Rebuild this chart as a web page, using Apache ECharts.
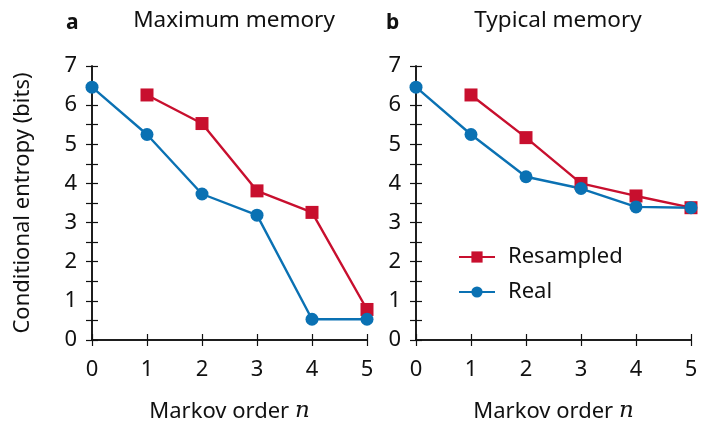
<!DOCTYPE html>
<html>
<head>
<meta charset="utf-8">
<script src="https://cdn.jsdelivr.net/npm/echarts@6/dist/echarts.min.js"></script>
<style>
  html, body { margin: 0; padding: 0; background: #fff; }
  #chart { width: 714px; height: 421px; }
</style>
</head>
<body>
<div id="chart"></div>
<script>
// Markov orders on the x axis
const orders = [0, 1, 2, 3, 4, 5];

// Panel a: maximum memory
const maxReal = [6.46, 5.25, 3.73, 3.19, 0.53, 0.53];
const maxResampled = [null, 6.26, 5.53, 3.81, 3.26, 0.78];

// Panel b: typical memory
const typReal = [6.46, 5.25, 4.17, 3.87, 3.40, 3.38];
const typResampled = [null, 6.26, 5.17, 4.00, 3.68, 3.38];

const panelTitles = ['Maximum memory', 'Typical memory'];
const panelLetters = ['a', 'b'];
const yName = 'Conditional entropy (bits)';
const seriesNames = ['Resampled', 'Real'];

const RED = '#c80f2e';
const BLUE = '#0a71b3';
const FONT = 'Noto Sans';
const INK = '#111';
const FS = 22;

const grids = [
  { left: 92, top: 66, width: 275, height: 274, outerBoundsMode: 'none', containLabel: false },
  { left: 416, top: 66, width: 275, height: 274, outerBoundsMode: 'none', containLabel: false }
];

function pairs(vals) {
  return orders.map((x, i) => vals[i] == null ? null : [x, vals[i]]).filter(p => p);
}

const xAxes = [];
const yAxes = [];
grids.forEach((g, gi) => {
  xAxes.push({
    type: 'value', gridIndex: gi, min: 0, max: 5, interval: 1, position: 'bottom',
    axisLine: { lineStyle: { color: INK, width: 1.5 } },
    axisTick: { inside: true, length: 6, lineStyle: { color: INK, width: 1.2 } },
    axisLabel: { color: INK, fontSize: FS, fontFamily: FONT, margin: 19 },
    splitLine: { show: false },
    name: '{t|Markov order }{n|n}',
    nameLocation: 'middle', nameGap: 60,
    nameTextStyle: {
      rich: {
        t: { fontSize: FS, fontFamily: FONT, color: INK },
        n: { fontSize: 23, fontFamily: 'DejaVu Serif', fontStyle: 'italic', color: INK }
      }
    }
  });
  xAxes.push({
    type: 'value', gridIndex: gi, min: 0, max: 5, interval: 1, position: 'top',
    axisLine: { lineStyle: { color: INK, width: 1.5 } },
    axisTick: { inside: true, length: 6, lineStyle: { color: INK, width: 1.2 } },
    axisLabel: { show: false },
    splitLine: { show: false }
  });
  yAxes.push({
    type: 'value', gridIndex: gi, min: 0, max: 7, interval: 1, position: 'left',
    axisLine: { show: true, lineStyle: { color: INK, width: 1.5 } },
    axisTick: { show: true, inside: true, length: 6, lineStyle: { color: INK, width: 1.2 } },
    minorTick: { show: true, splitNumber: 2, length: 6, lineStyle: { color: INK, width: 1.2 } },
    axisLabel: { color: INK, fontSize: FS, fontFamily: FONT, margin: 15 },
    splitLine: { show: false },
    name: gi === 0 ? yName : '',
    nameLocation: 'middle', nameGap: 58,
    nameTextStyle: { fontSize: FS, fontFamily: FONT, color: INK }
  });
  yAxes.push({
    type: 'value', gridIndex: gi, min: 0, max: 7, interval: 1, position: 'right',
    axisLine: { show: true, lineStyle: { color: INK, width: 1.5 } },
    axisTick: { show: true, inside: true, length: 6, lineStyle: { color: INK, width: 1.2 } },
    minorTick: { show: true, splitNumber: 2, length: 6, lineStyle: { color: INK, width: 1.2 } },
    axisLabel: { show: false },
    splitLine: { show: false }
  });
});

function lineSeries(name, data, gi, color, symbol, size) {
  return {
    name, type: 'line', data: pairs(data),
    xAxisIndex: gi * 2, yAxisIndex: gi * 2,
    symbol, symbolSize: size, showAllSymbol: true, clip: false,
    lineStyle: { color, width: 2.4 },
    itemStyle: { color },
    emphasis: { disabled: true },
    animation: false
  };
}

const series = [
  lineSeries(seriesNames[0], maxResampled, 0, RED, 'rect', 13),
  lineSeries(seriesNames[1], maxReal, 0, BLUE, 'circle', 13),
  lineSeries(seriesNames[0], typResampled, 1, RED, 'rect', 13),
  lineSeries(seriesNames[1], typReal, 1, BLUE, 'circle', 13)
];

const option = {
  backgroundColor: '#fff',
  animation: false,
  title: [
    { text: panelTitles[0], left: 229, top: 4, textAlign: 'center',
      textStyle: { fontSize: 22.5, fontWeight: 'normal', fontFamily: FONT, color: INK } },
    { text: panelTitles[1], left: 553, top: 4, textAlign: 'center',
      textStyle: { fontSize: 22.5, fontWeight: 'normal', fontFamily: FONT, color: INK } },
    { text: panelLetters[0], left: 61, top: 8,
      textStyle: { fontSize: 21, fontWeight: 'bold', fontFamily: FONT, color: INK } },
    { text: panelLetters[1], left: 381, top: 8,
      textStyle: { fontSize: 21, fontWeight: 'bold', fontFamily: FONT, color: INK } }
  ],
  legend: {
    data: seriesNames, orient: 'vertical', left: 453, top: 241,
    itemWidth: 36, itemHeight: 14, itemGap: 13,
    textStyle: { fontSize: FS, fontFamily: FONT, color: INK, padding: [0, 0, 0, 8] },
    selectedMode: false
  },
  grid: grids,
  xAxis: xAxes,
  yAxis: yAxes,
  series
};

echarts.init(document.getElementById('chart'), null, { renderer: 'canvas' }).setOption(option);
</script>
</body>
</html>
